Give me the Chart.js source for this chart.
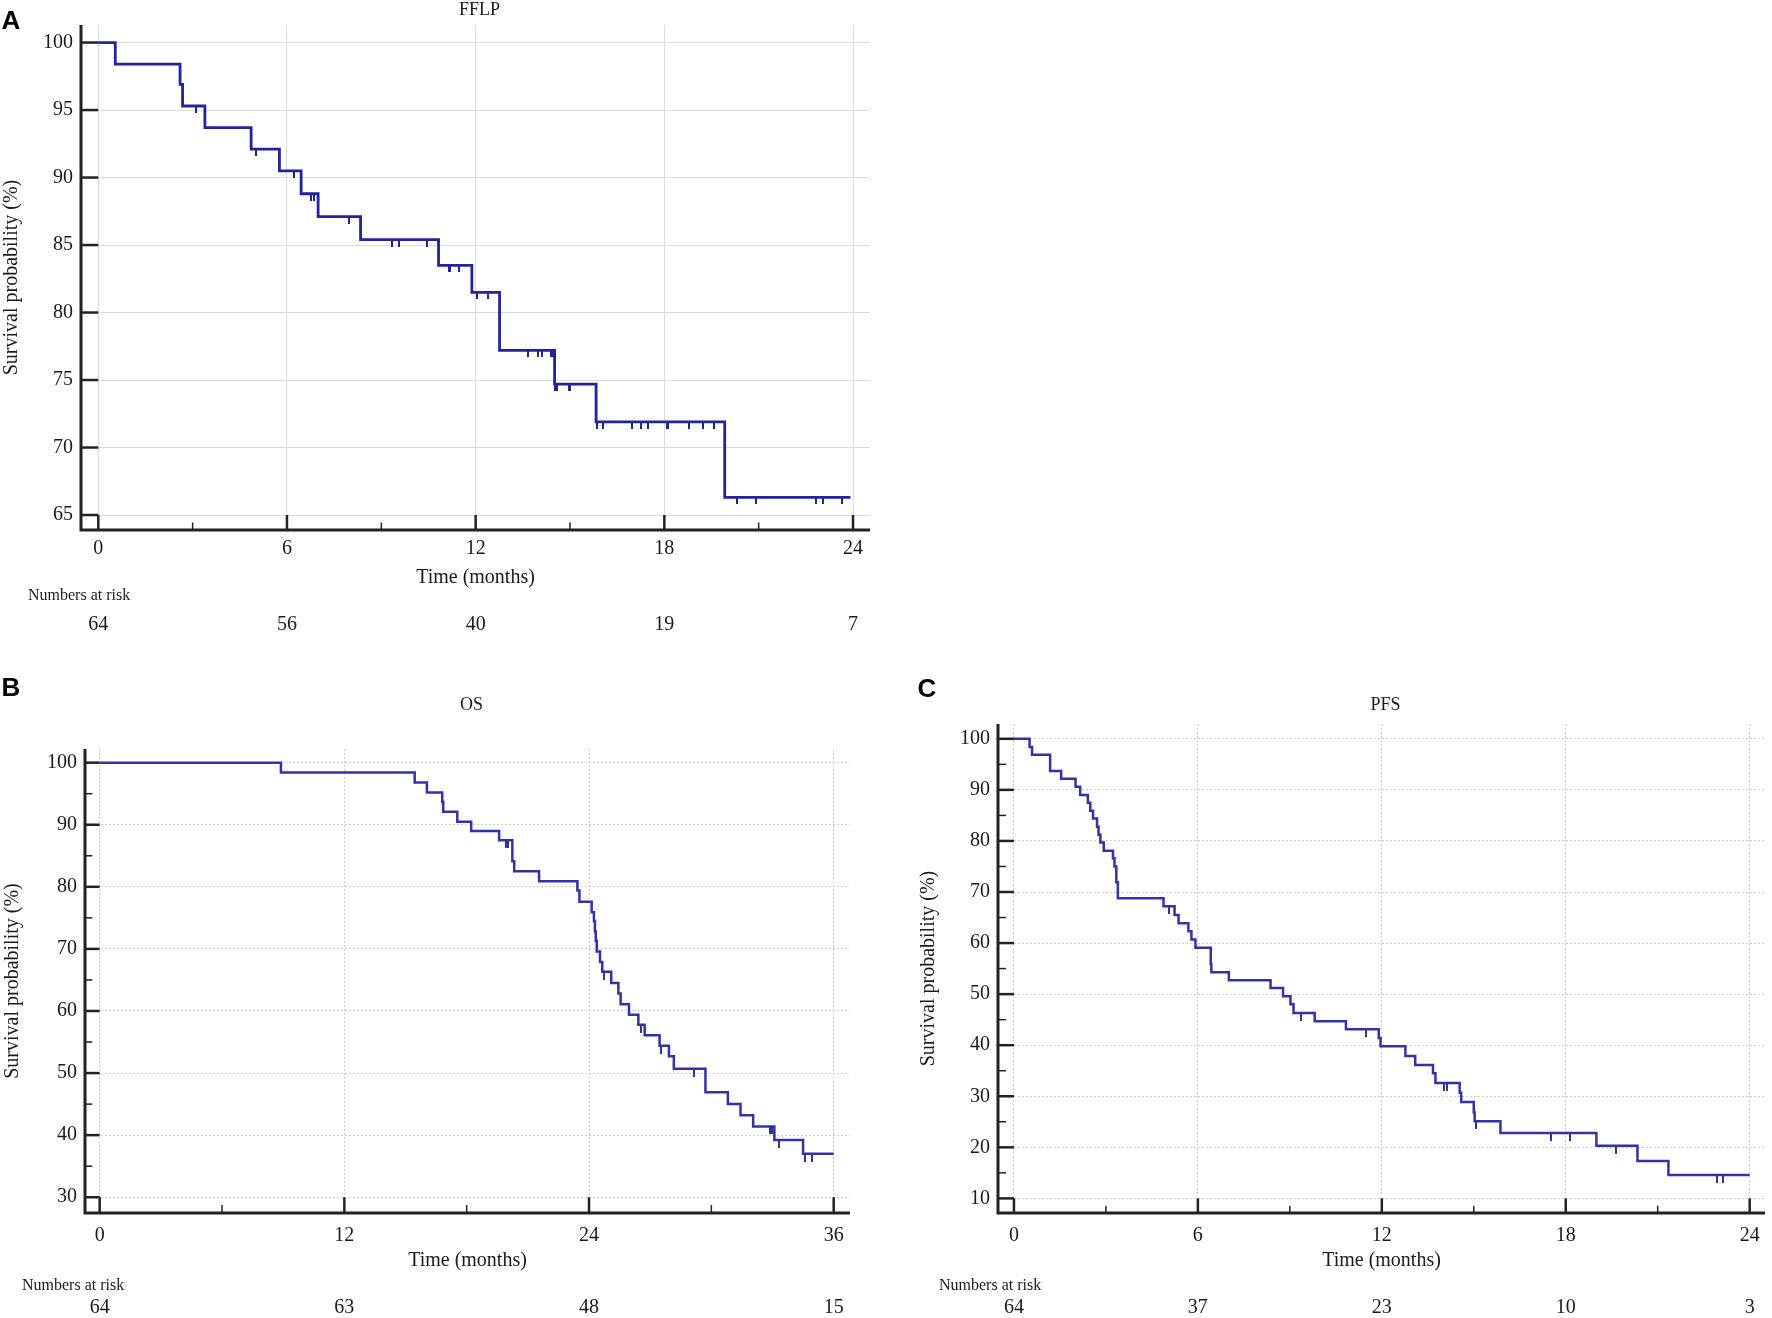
<!DOCTYPE html>
<html>
<head>
<meta charset="utf-8">
<title>FFLP / OS / PFS</title>
<script src="https://cdn.jsdelivr.net/npm/chart.js@4.4.1/dist/chart.umd.min.js"></script>
<style>
  html, body { margin: 0; padding: 0; background: #fff; }
  #page { position: relative; width: 1772px; height: 1318px; background: #fff; overflow: hidden; }
  canvas { position: absolute; }
</style>
</head>
<body>
<div id="page">
  <canvas id="chartA" width="890" height="640" style="left:0;top:0;width:890px;height:640px"></canvas>
  <canvas id="chartB" width="890" height="668" style="left:0;top:650px;width:890px;height:668px"></canvas>
  <canvas id="chartC" width="882" height="668" style="left:890px;top:650px;width:882px;height:668px"></canvas>
</div>
<script>
// --- Panel A: FFLP ---
const fflpTimes = [0, 0.54, 2.60, 2.68, 3.39, 4.86, 5.76, 6.45, 6.99, 8.34, 10.82, 11.88, 12.76, 14.51, 15.83, 19.92, 23.92];
const fflpSurv  = [100, 98.4, 96.9, 95.3, 93.7, 92.1, 90.5, 88.8, 87.1, 85.4, 83.5, 81.5, 77.2, 74.7, 71.9, 66.3, 66.3];
const fflpCensored = [3.10, 5.02, 6.23, 6.76, 6.87, 7.97, 9.35, 9.56, 10.45, 11.16, 11.20, 11.46, 12.03, 12.38,
    13.65, 13.99, 14.11, 14.41, 14.46, 14.53, 14.58, 14.96, 15.00, 15.85, 16.04, 16.96, 17.26, 17.47,
    18.08, 18.13, 18.79, 19.24, 19.58, 20.30, 20.93, 22.83, 23.04, 23.64];
const fflpRiskTimes = [0, 6, 12, 18, 24];
const fflpRisk = [64, 56, 40, 19, 7];

// --- Panel B: OS ---
const osTimes = [0, 8.89, 15.45, 16.05, 16.80, 16.85, 17.54, 18.22, 19.59, 20.24, 20.33, 21.55, 23.43, 23.53,
    24.13, 24.24, 24.29, 24.33, 24.38, 24.54, 24.65, 25.09, 25.44, 25.55, 25.96, 26.42, 26.73, 27.46,
    27.92, 28.16, 29.71, 30.81, 31.43, 32.05, 33.09, 34.50, 36.00];
const osSurv = [100, 98.4, 96.8, 95.2, 93.7, 92.1, 90.5, 89.0, 87.5, 84.1, 82.5, 80.9, 79.4, 77.6,
    75.9, 74.5, 72.8, 71.3, 69.6, 67.9, 66.3, 64.5, 62.8, 61.1, 59.4, 57.8, 56.1, 54.4,
    52.7, 50.7, 46.9, 45.0, 43.2, 41.4, 39.2, 37.0, 37.0];
const osCensored = [19.95, 20.05, 24.73, 26.56, 27.51, 29.14, 32.90, 32.98, 33.30, 34.61, 34.94];
const osRiskTimes = [0, 12, 24, 36];
const osRisk = [64, 63, 48, 15];

// --- Panel C: PFS ---
const pfsTimes = [0, 0.51, 0.59, 1.18, 1.54, 2.01, 2.16, 2.41, 2.49, 2.58, 2.71, 2.76, 2.82, 2.93, 3.23, 3.28,
    3.34, 3.39, 4.88, 5.24, 5.37, 5.69, 5.79, 5.92, 6.42, 6.44, 7.01, 8.37, 8.78, 9.02, 9.12, 9.81,
    10.83, 11.90, 11.96, 12.77, 13.09, 13.67, 13.75, 14.54, 14.59, 15.00, 15.03, 15.87, 19.00, 20.34, 21.35, 24.00];
const pfsSurv = [100, 98.4, 96.9, 93.7, 92.2, 90.6, 89.0, 87.5, 85.9, 84.4, 82.8, 81.2, 79.7, 78.1, 76.6, 75.0,
    71.9, 68.8, 67.2, 65.5, 63.9, 62.3, 60.7, 59.1, 55.9, 54.3, 52.7, 51.2, 49.6, 48.0, 46.3, 44.7,
    43.1, 41.4, 39.8, 37.9, 36.1, 34.5, 32.6, 30.7, 28.9, 26.8, 25.1, 22.8, 20.3, 17.3, 14.6, 14.6];
const pfsCensored = [5.05, 9.37, 11.47, 14.03, 14.14, 15.08, 17.53, 18.13, 19.64, 22.93, 23.12];
const pfsRiskTimes = [0, 6, 12, 18, 24];
const pfsRisk = [64, 37, 23, 10, 3];

const SERIF = '"Liberation Serif", "Times New Roman", serif';
const TEXT_COLOR = '#1a1a1a';
const AXIS_COLOR = '#222';

// Уровень кривой в момент t (для засечек цензурирования)
function levelAt(times, surv, t) {
    let y = surv[0];
    for (let i = 0; i < times.length; i++) {
        if (times[i] <= t) y = surv[i];
    }
    return y;
}

// Засечка, свисающая вниз от линии
function makeCensorTick(color, len) {
    const c = document.createElement('canvas');
    c.width = 2;
    c.height = len * 2;
    const g = c.getContext('2d');
    g.fillStyle = color;
    g.fillRect(0, len, 2, len);
    return c;
}

function range(from, to, step) {
    const out = [];
    for (let v = from; v <= to + 1e-9; v += step) out.push(v);
    return out;
}

// Оси, засечки, заголовок, буква панели и таблица "Numbers at risk"
const panelDecor = {
    id: 'panelDecor',
    afterDraw(chart, args, opts) {
        const ctx = chart.ctx;
        const area = chart.chartArea;
        const xs = chart.scales.x;
        const ys = chart.scales.y;
        const x0 = xs.getPixelForValue(opts.xMajor[0]);
        const yLow = ys.getPixelForValue(opts.yMajor[0]);

        ctx.save();
        ctx.strokeStyle = AXIS_COLOR;
        ctx.lineCap = 'butt';

        // major/minor ticks
        ctx.lineWidth = 2.5;
        opts.yMajor.forEach(v => {
            const p = ys.getPixelForValue(v);
            ctx.beginPath(); ctx.moveTo(area.left, p); ctx.lineTo(x0, p); ctx.stroke();
        });
        opts.xMajor.forEach(v => {
            const p = xs.getPixelForValue(v);
            ctx.beginPath(); ctx.moveTo(p, area.bottom); ctx.lineTo(p, yLow); ctx.stroke();
        });
        ctx.lineWidth = 1.5;
        (opts.yMinor || []).forEach(v => {
            const p = ys.getPixelForValue(v);
            ctx.beginPath(); ctx.moveTo(area.left, p); ctx.lineTo(area.left + (x0 - area.left) / 2, p); ctx.stroke();
        });
        (opts.xMinor || []).forEach(v => {
            const p = xs.getPixelForValue(v);
            ctx.beginPath(); ctx.moveTo(p, area.bottom); ctx.lineTo(p, area.bottom - (area.bottom - yLow) / 2); ctx.stroke();
        });

        // axis lines
        ctx.lineWidth = 3;
        ctx.beginPath();
        ctx.moveTo(area.left, area.top);
        ctx.lineTo(area.left, area.bottom);
        ctx.lineTo(area.right, area.bottom);
        ctx.stroke();

        // title
        ctx.fillStyle = TEXT_COLOR;
        ctx.textAlign = 'center';
        ctx.textBaseline = 'middle';
        ctx.font = '18px ' + SERIF;
        ctx.fillText(opts.title, (area.left + area.right) / 2 + 4, opts.titleY);

        // panel letter
        ctx.font = 'bold 26px "Liberation Sans", Arial, sans-serif';
        ctx.fillStyle = '#000';
        ctx.fillText(opts.letter, opts.letterX, opts.letterY);

        // numbers at risk
        ctx.fillStyle = TEXT_COLOR;
        ctx.textAlign = 'left';
        ctx.font = '16px ' + SERIF;
        ctx.fillText('Numbers at risk', opts.riskLabelX, opts.riskLabelY);
        ctx.textAlign = 'center';
        ctx.font = '20px ' + SERIF;
        opts.riskTimes.forEach((t, i) => {
            ctx.fillText(String(opts.risk[i]), xs.getPixelForValue(t), opts.riskY);
        });
        ctx.restore();
    }
};

function initSurvivalChart(id, cfg) {
    const canvas = document.getElementById(id);
    if (!canvas) return;

    const curve = cfg.times.map((t, i) => ({ x: t, y: cfg.surv[i] }));
    const marks = cfg.censored.map(t => ({ x: t, y: levelAt(cfg.times, cfg.surv, t) }));

    new Chart(canvas.getContext('2d'), {
        type: 'scatter',
        data: {
            datasets: [{
                data: curve,
                showLine: true,
                stepped: 'before',
                borderColor: cfg.color,
                borderWidth: cfg.lineWidth,
                pointRadius: 0,
                fill: false
            }, {
                data: marks,
                showLine: false,
                pointStyle: makeCensorTick(cfg.color, cfg.tickLen),
                pointRadius: 4
            }]
        },
        options: {
            responsive: false,
            animation: false,
            devicePixelRatio: 1,
            events: [],
            layout: { padding: cfg.padding },
            plugins: {
                legend: { display: false },
                tooltip: { enabled: false },
                panelDecor: cfg.decor
            },
            scales: {
                x: {
                    type: 'linear',
                    min: cfg.xMin,
                    max: cfg.xMax,
                    afterFit: s => { s.height = 60; },
                    border: { display: false, dash: cfg.gridDash },
                    grid: { color: cfg.gridColor, lineWidth: 1, drawTicks: false },
                    ticks: {
                        stepSize: cfg.xStep,
                        includeBounds: false,
                        autoSkip: false,
                        maxRotation: 0,
                        padding: cfg.xTickPad,
                        color: TEXT_COLOR,
                        font: { family: SERIF, size: 20 }
                    },
                    title: {
                        display: true,
                        text: 'Time (months)',
                        color: TEXT_COLOR,
                        padding: 0,
                        font: { family: SERIF, size: 20 }
                    }
                },
                y: {
                    type: 'linear',
                    min: cfg.yMin,
                    max: cfg.yMax,
                    afterFit: s => { s.width = cfg.yWidth; },
                    border: { display: false, dash: cfg.gridDash },
                    grid: { color: cfg.gridColor, lineWidth: 1, drawTicks: false },
                    ticks: {
                        stepSize: cfg.yStep,
                        includeBounds: false,
                        padding: 8,
                        color: TEXT_COLOR,
                        font: { family: SERIF, size: 20 }
                    },
                    title: {
                        display: true,
                        text: 'Survival probability (%)',
                        color: TEXT_COLOR,
                        padding: 0,
                        font: { family: SERIF, size: 20 }
                    }
                }
            }
        },
        plugins: [panelDecor]
    });
}

(function() {
    function init() {
        if (typeof Chart === 'undefined') {
            console.error('Chart.js not loaded');
            return;
        }

        initSurvivalChart('chartA', {
            times: fflpTimes, surv: fflpSurv, censored: fflpCensored,
            color: '#23239c', lineWidth: 2.8, tickLen: 7, gridColor: '#dcdcdc', gridDash: [],
            padding: { left: 0, right: 20, top: 25, bottom: 50 },
            xMin: -0.55, xMax: 24.54, xStep: 6, xTickPad: 7,
            yMin: 63.89, yMax: 101.3, yStep: 5, yWidth: 81,
            decor: {
                title: 'FFLP', titleY: 10,
                letter: 'A', letterX: 11, letterY: 22,
                yMajor: range(65, 100, 5), yMinor: [],
                xMajor: range(0, 24, 6), xMinor: [3, 9, 15, 21],
                riskTimes: fflpRiskTimes, risk: fflpRisk,
                riskLabelX: 28, riskLabelY: 596, riskY: 625
            }
        });

        initSurvivalChart('chartB', {
            times: osTimes, surv: osSurv, censored: osCensored,
            color: '#3333a6', lineWidth: 2.5, tickLen: 8, gridColor: '#d0d0d0', gridDash: [2, 2],
            padding: { left: 1, right: 40, top: 99, bottom: 45 },
            xMin: -0.72, xMax: 36.8, xStep: 12, xTickPad: 11,
            yMin: 27.46, yMax: 102.2, yStep: 10, yWidth: 84,
            decor: {
                title: 'OS', titleY: 55,
                letter: 'B', letterX: 11, letterY: 39,
                yMajor: range(30, 100, 10), yMinor: range(35, 95, 10),
                xMajor: range(0, 36, 12), xMinor: [6, 18, 30],
                riskTimes: osRiskTimes, risk: osRisk,
                riskLabelX: 22, riskLabelY: 636, riskY: 658
            }
        });

        initSurvivalChart('chartC', {
            times: pfsTimes, surv: pfsSurv, censored: pfsCensored,
            color: '#3333a6', lineWidth: 2.5, tickLen: 8, gridColor: '#d0d0d0', gridDash: [2, 2],
            padding: { left: 27, right: 7, top: 74, bottom: 45 },
            xMin: -0.52, xMax: 24.5, xStep: 6, xTickPad: 11,
            yMin: 7.14, yMax: 102.9, yStep: 10, yWidth: 81,
            decor: {
                title: 'PFS', titleY: 55,
                letter: 'C', letterX: 37, letterY: 40,
                yMajor: range(10, 100, 10), yMinor: range(15, 95, 10),
                xMajor: range(0, 24, 6), xMinor: [3, 9, 15, 21],
                riskTimes: pfsRiskTimes, risk: pfsRisk,
                riskLabelX: 49, riskLabelY: 636, riskY: 658
            }
        });
    }

    if (document.readyState === 'loading') {
        document.addEventListener('DOMContentLoaded', init);
    } else {
        init();
    }
})();
</script>
</body>
</html>
